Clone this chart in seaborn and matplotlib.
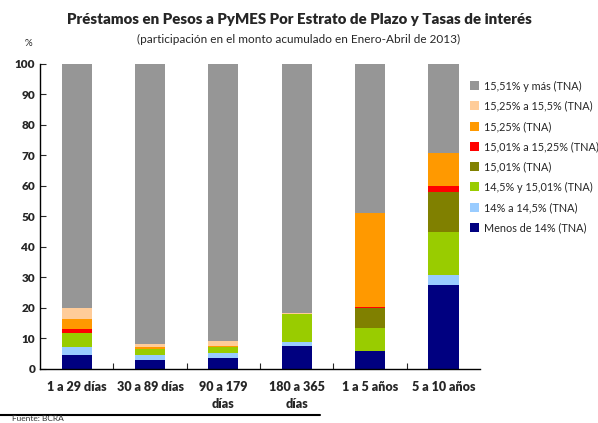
import numpy as np
import pandas as pd
import seaborn as sns
import matplotlib.pyplot as plt

plazos = ["1 a 29 días", "30 a 89 días", "90 a 179\ndías", "180 a 365\ndías", "1 a 5 años", "5 a 10 años"]

# estratos de tasa, de abajo hacia arriba
tramos = ["Menos de 14% (TNA)", "14% a 14,5% (TNA)", "14,5% y 15,01% (TNA)", "15,01% (TNA)",
          "15,01% a 15,25% (TNA)", "15,25% (TNA)", "15,25% a 15,5% (TNA)", "15,51% y más (TNA)"]
colores = ["#000080", "#99CCFF", "#99CC00", "#808000", "#FF0000", "#FF9900", "#FFCC99", "#969696"]

menos_14 = [4.5, 3.0, 3.4, 7.6, 5.7, 27.6]
t14_145 = [2.8, 1.7, 1.9, 1.1, 0.0, 3.3]
t145_1501 = [4.6, 1.8, 1.9, 9.3, 7.8, 14.1]
t1501 = [0.0, 0.0, 0.0, 0.0, 6.3, 13.1]
t1501_1525 = [1.1, 0.0, 0.0, 0.0, 0.4, 1.9]
t1525 = [3.2, 0.8, 0.4, 0.0, 30.8, 10.9]
t1525_155 = [3.7, 1.0, 1.6, 0.3, 0.0, 0.0]
t1551_mas = [80.1, 91.7, 90.8, 81.7, 49.0, 29.1]

series = [menos_14, t14_145, t145_1501, t1501, t1501_1525, t1525, t1525_155, t1551_mas]

sns.set_style("white")
plt.rcParams['font.family'] = ['Lato', 'DejaVu Sans']

fig = plt.figure(figsize=(5.98, 4.23), dpi=100)
ax = fig.add_axes([0.067, 0.128, 0.736, 0.721])

base = np.zeros(len(plazos))
for nombre, vals, col in zip(tramos, series, colores):
    df = pd.DataFrame({'plazo': plazos, 'valor': vals})
    sns.barplot(data=df, x='plazo', y='valor', bottom=base, color=col, width=0.41,
                saturation=1, label=nombre, ax=ax, linewidth=0)
    base = base + np.array(vals)

ax.set_ylim(0, 100)
ax.set_xlim(-0.5, len(plazos) - 0.5)
ax.set_yticks(range(0, 101, 10))
ax.set_xlabel("")
ax.set_ylabel("")
for s in ["top", "right"]:
    ax.spines[s].set_visible(False)
for s in ["left", "bottom"]:
    ax.spines[s].set_color("black")
    ax.spines[s].set_linewidth(1.0)

ax.tick_params(axis='y', direction='in', length=4, width=0.8, left=True, labelsize=8.5)
ax.tick_params(axis='x', which='major', length=0, labelsize=9, pad=9)
ax.set_xticks(np.arange(0.5, len(plazos) - 0.5), minor=True)
ax.tick_params(axis='x', which='minor', direction='in', length=4, width=0.8, bottom=True)
for lab in ax.get_yticklabels() + ax.get_xticklabels():
    lab.set_fontweight('heavy')
for lab in ax.get_xticklabels():
    lab.set_linespacing(1.5)

fig.text(0.5, 0.955, "Préstamos en Pesos a PyMES Por Estrato de Plazo y Tasas de interés",
         ha='center', va='center', fontsize=10.8, fontweight='heavy')
fig.text(0.5, 0.906, "(participación en el monto acumulado en Enero-Abril de 2013)",
         ha='center', va='center', fontsize=8.5)
fig.text(0.047, 0.898, "%", ha='center', va='center', fontsize=7)

h, l = ax.get_legend_handles_labels()
ax.legend(h[::-1], l[::-1], loc='upper left', bbox_to_anchor=(0.778, 0.82),
          bbox_transform=fig.transFigure, frameon=False, fontsize=7.8,
          handlelength=0.9, handleheight=0.9, handletextpad=0.4, labelspacing=0.85,
          borderaxespad=0)

fig.add_artist(plt.Line2D([0.0, 0.535], [0.02, 0.02], color='black', linewidth=1.5,
                          transform=fig.transFigure))
fig.text(0.02, 0.002, "Fuente: BCRA", ha='left', va='bottom', fontsize=6, color='#333333')

fig.savefig("out.png", dpi=100)
